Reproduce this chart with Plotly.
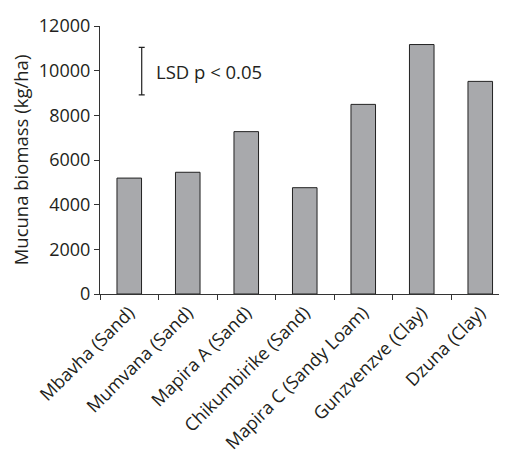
import plotly.graph_objects as go

sites = ["Mbavha (Sand)", "Mumvana (Sand)", "Mapira A (Sand)", "Chikumbirike (Sand)",
         "Mapira C (Sandy Loam)", "Gunzvenzve (Clay)", "Dzuna (Clay)"]
biomass = [5190, 5450, 7270, 4760, 8490, 11170, 9520]
lsd_center = [9980]
lsd_value = 2120
lsd_label = "LSD p < 0.05"
y_ticks = [0, 2000, 4000, 6000, 8000, 10000, 12000]

FONT = "Open Sans, Liberation Sans, sans-serif"
BODY = 8  # default page body margin
W, H = 507 - BODY, 455 - BODY
ML, MR, MT, MB = 100 - BODY, 0, 26 - BODY, 161
cat_px = 58.5
x_hi = -0.5 + (W - ML - MR) / cat_px

fig = go.Figure()
fig.add_trace(go.Bar(
    x=sites, y=biomass, width=0.42,
    marker=dict(color="#a8a9ac", line=dict(color="#222222", width=1)),
    showlegend=False, hoverinfo="x+y",
))
fig.add_trace(go.Scatter(
    x=[0.213], y=lsd_center, mode="markers", marker=dict(size=0.1, color="rgba(0,0,0,0)"),
    error_y=dict(type="constant", value=lsd_value / 2, color="#222222", thickness=1.2, width=3),
    xaxis="x2", showlegend=False, hoverinfo="skip",
))
fig.add_annotation(x=0.43, y=lsd_center[0], xref="x2", yref="y", text=lsd_label,
                   showarrow=False, xanchor="left", yanchor="middle",
                   font=dict(family=FONT, size=18.5, color="#231f20"))

fig.update_layout(
    width=W, height=H,
    margin=dict(l=ML, r=MR, t=MT, b=MB, pad=0, autoexpand=False),
    paper_bgcolor="white", plot_bgcolor="white",
    font=dict(family=FONT, color="#231f20"),
    bargap=0.58,
    xaxis=dict(
        type="category", range=[-0.5, x_hi], tickson="boundaries", automargin=False,
        ticks="outside", ticklen=5, tickcolor="#333333", tickwidth=1,
        showline=True, linecolor="#333333", linewidth=1.2,
        tickangle=-45, tickfont=dict(family=FONT, size=18, color="#231f20"),
        showgrid=False, zeroline=False,
    ),
    xaxis2=dict(overlaying="x", range=[-0.5, x_hi], visible=False, type="linear"),
    yaxis=dict(
        range=[0, 12000], tickvals=y_ticks, tickformat="d", ticks="outside", ticklen=5,
        automargin=False,
        tickcolor="#333333", tickwidth=1, showline=True, linecolor="#333333", linewidth=1.2,
        tickfont=dict(family=FONT, size=18, color="#231f20"),
        showgrid=False, zeroline=False,
        title=dict(text="Mucuna biomass (kg/ha)", font=dict(family=FONT, size=18.5, color="#231f20"), standoff=6),
    ),
)
fig.write_html("out.html")
